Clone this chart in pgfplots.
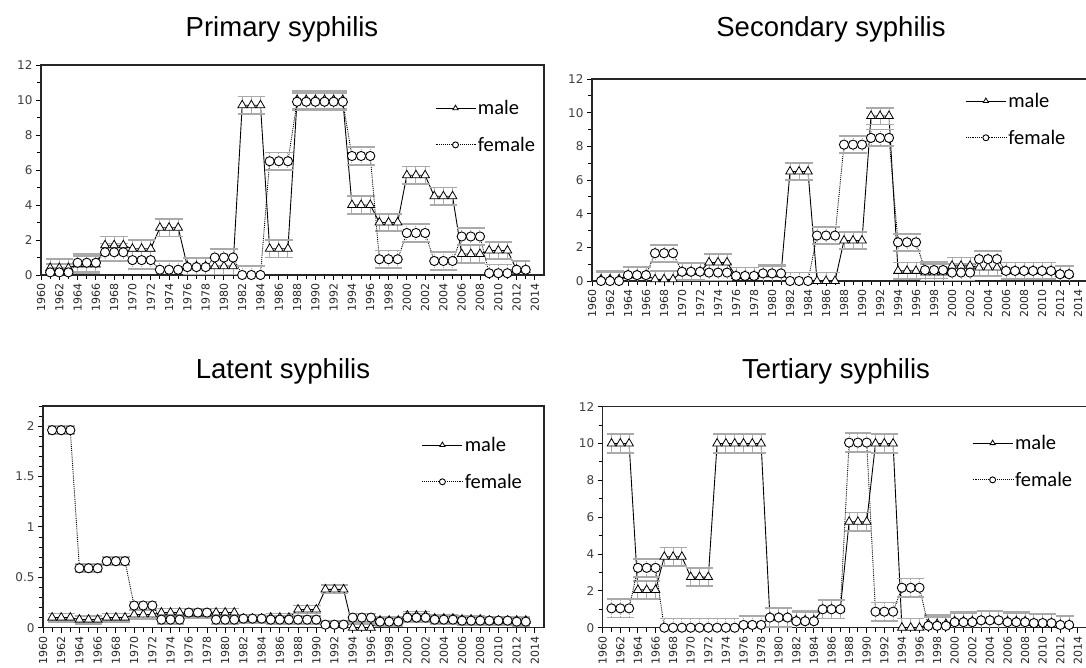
\documentclass[border=0pt]{standalone}
\usepackage{pgfplots}
\usepackage{pgfplotstable}
\pgfplotsset{compat=1.18}
\usepackage{fontspec}
\setmainfont{Liberation Sans}
\newfontfamily\dejavu{DejaVu Sans}
\newfontfamily\carlito{Carlito}

% year, male, female (3-year blocks)
\pgfplotstableread{
year male female
1961 0.4 0.15
1962 0.4 0.15
1963 0.4 0.15
1964 0.6 0.7
1965 0.6 0.7
1966 0.6 0.7
1967 1.7 1.3
1968 1.7 1.3
1969 1.7 1.3
1970 1.5 0.85
1971 1.5 0.85
1972 1.5 0.85
1973 2.7 0.3
1974 2.7 0.3
1975 2.7 0.3
1976 0.5 0.45
1977 0.5 0.45
1978 0.5 0.45
1979 0.5 1.0
1980 0.5 1.0
1981 0.5 1.0
1982 9.7 0.0
1983 9.7 0.0
1984 9.7 0.0
1985 1.5 6.5
1986 1.5 6.5
1987 1.5 6.5
1988 10.0 9.9
1989 10.0 9.9
1990 10.0 9.9
1991 10.0 9.9
1992 10.0 9.9
1993 10.0 9.9
1994 4.0 6.8
1995 4.0 6.8
1996 4.0 6.8
1997 3.0 0.9
1998 3.0 0.9
1999 3.0 0.9
2000 5.7 2.4
2001 5.7 2.4
2002 5.7 2.4
2003 4.5 0.8
2004 4.5 0.8
2005 4.5 0.8
2006 1.2 2.2
2007 1.2 2.2
2008 1.2 2.2
2009 1.4 0.1
2010 1.4 0.1
2011 1.4 0.1
2012 0.3 0.3
2013 0.3 0.3
}\primary

\pgfplotstableread{
year male female
1961 0.1 0.0
1962 0.1 0.0
1963 0.1 0.0
1964 0.35 0.35
1965 0.35 0.35
1966 0.35 0.35
1967 0.1 1.65
1968 0.1 1.65
1969 0.1 1.65
1970 0.55 0.55
1971 0.55 0.55
1972 0.55 0.55
1973 1.1 0.5
1974 1.1 0.5
1975 1.1 0.5
1976 0.3 0.3
1977 0.3 0.3
1978 0.3 0.3
1979 0.4 0.45
1980 0.4 0.45
1981 0.4 0.45
1982 6.5 0.0
1983 6.5 0.0
1984 6.5 0.0
1985 0.0 2.7
1986 0.0 2.7
1987 0.0 2.7
1988 2.4 8.1
1989 2.4 8.1
1990 2.4 8.1
1991 9.8 8.5
1992 9.8 8.5
1993 9.8 8.5
1994 0.6 2.3
1995 0.6 2.3
1996 0.6 2.3
1997 0.5 0.65
1998 0.5 0.65
1999 0.5 0.65
2000 0.9 0.5
2001 0.9 0.5
2002 0.9 0.5
2003 0.8 1.3
2004 0.8 1.3
2005 0.8 1.3
2006 0.6 0.6
2007 0.6 0.6
2008 0.6 0.6
2009 0.6 0.6
2010 0.6 0.6
2011 0.6 0.6
2012 0.4 0.4
2013 0.4 0.4
}\secondary

\pgfplotstableread{
year male female
1961 0.10 1.96
1962 0.10 1.96
1963 0.10 1.96
1964 0.08 0.59
1965 0.08 0.59
1966 0.08 0.59
1967 0.10 0.66
1968 0.10 0.66
1969 0.10 0.66
1970 0.13 0.22
1971 0.13 0.22
1972 0.13 0.22
1973 0.15 0.08
1974 0.15 0.08
1975 0.15 0.08
1976 0.14 0.15
1977 0.14 0.15
1978 0.14 0.15
1979 0.15 0.08
1980 0.15 0.08
1981 0.15 0.08
1982 0.09 0.09
1983 0.09 0.09
1984 0.09 0.09
1985 0.10 0.08
1986 0.10 0.08
1987 0.10 0.08
1988 0.18 0.08
1989 0.18 0.08
1990 0.18 0.08
1991 0.38 0.03
1992 0.38 0.03
1993 0.38 0.03
1994 0.00 0.10
1995 0.00 0.10
1996 0.00 0.10
1997 0.07 0.06
1998 0.07 0.06
1999 0.07 0.06
2000 0.12 0.10
2001 0.12 0.10
2002 0.12 0.10
2003 0.09 0.08
2004 0.09 0.08
2005 0.09 0.08
2006 0.08 0.07
2007 0.08 0.07
2008 0.08 0.07
2009 0.07 0.07
2010 0.07 0.07
2011 0.07 0.07
2012 0.07 0.06
2013 0.07 0.06
}\latent

\pgfplotstableread{
year male female
1961 10.0 1.05
1962 10.0 1.05
1963 10.0 1.05
1964 2.05 3.25
1965 2.05 3.25
1966 2.05 3.25
1967 3.85 0.0
1968 3.85 0.0
1969 3.85 0.0
1970 2.75 0.0
1971 2.75 0.0
1972 2.75 0.0
1973 10.0 0.0
1974 10.0 0.0
1975 10.0 0.0
1976 10.0 0.15
1977 10.0 0.15
1978 10.0 0.15
1979 0.55 0.55
1980 0.55 0.55
1981 0.55 0.55
1982 0.4 0.35
1983 0.4 0.35
1984 0.4 0.35
1985 1.0 1.0
1986 1.0 1.0
1987 1.0 1.0
1988 5.75 10.05
1989 5.75 10.05
1990 5.75 10.05
1991 10.0 0.87
1992 10.0 0.87
1993 10.0 0.87
1994 0.0 2.17
1995 0.0 2.17
1996 0.0 2.17
1997 0.2 0.1
1998 0.2 0.1
1999 0.2 0.1
2000 0.35 0.3
2001 0.35 0.3
2002 0.35 0.3
2003 0.4 0.4
2004 0.4 0.4
2005 0.4 0.4
2006 0.35 0.3
2007 0.35 0.3
2008 0.35 0.3
2009 0.25 0.25
2010 0.25 0.25
2011 0.25 0.25
2012 0.15 0.15
2013 0.15 0.15
}\tertiary

\definecolor{errgray}{RGB}{170,170,170}
\definecolor{lblgray}{RGB}{64,64,64}

\pgfplotsset{
  panel/.style={
    scale only axis, anchor=south west,
    xmin=1960, xmax=2015, ymin=0,
    xtick={1960,1962,...,2014}, minor xtick={1961,1963,...,2013},
    /pgf/number format/.cd, 1000 sep={}, assume math mode=true, /pgfplots/.cd,
    x tick label style={rotate=90, anchor=east, font=\dejavu\fontsize{11}{11}\selectfont, text=black!85},
    y tick label style={font=\dejavu\fontsize{12}{12}\selectfont, text=lblgray},
    tick align=outside, xtick pos=lower, ytick pos=left,
    major tick length=5pt, minor tick length=4pt,
    tick style={black, line width=0.9pt},
    axis line style={black!85, line width=1.3pt},
    legend cell align=left,
    legend style={draw=none, fill=none, inner sep=0pt, anchor=west,
      font=\carlito\fontsize{20.5}{20.5}\selectfont, row sep=17pt},
    legend image code/.code={\draw[mark repeat=2, mark phase=2, ##1, mark size=3pt]
      plot coordinates {(0pt,0pt) (20pt,0pt) (40pt,0pt)};},
  },
  ebar/.style={error bars/.cd, y dir=both, y fixed=#1,
    error bar style={errgray, line width=1pt},
    error mark options={rotate=90, errgray, mark size=4.6pt, line width=1.8pt}},
  maleplot/.style={black, line width=0.9pt, mark=triangle*, mark size=5pt,
    mark options={solid, fill=white, line width=0.8pt}},
  femaleplot/.style={black, densely dotted, line width=0.9pt, mark=*, mark size=4.6pt,
    mark options={solid, fill=white, line width=0.9pt}},
}

\begin{document}
\begin{tikzpicture}
\useasboundingbox[fill=white] (0pt,0pt) rectangle (1086pt,668pt);

\node[anchor=base, font=\fontsize{27.5}{27.5}\selectfont] at (282pt,631pt) {Primary syphilis};
\node[anchor=base, font=\fontsize{27.5}{27.5}\selectfont] at (831pt,631pt) {Secondary syphilis};
\node[anchor=base, font=\fontsize{27.5}{27.5}\selectfont] at (283pt,289pt) {Latent syphilis};
\node[anchor=base, font=\fontsize{27.5}{27.5}\selectfont] at (836pt,289pt) {Tertiary syphilis};

% Primary
\begin{axis}[panel, at={(41pt,393pt)}, width=503pt, height=210pt, ymax=12,
  ytick={0,2,...,12}, minor ytick={1,3,...,11},
  legend style={at={(0.783,0.707)}}]
\addplot[maleplot, ebar=0.5] table[x=year, y=male] {\primary};
\addplot[femaleplot, ebar=0.5] table[x=year, y=female] {\primary};
\legend{male, female}
\end{axis}

% Secondary
\begin{axis}[panel, at={(592pt,387pt)}, width=495pt, height=202pt, ymax=12,
  ytick={0,2,...,12}, minor ytick={1,3,...,11},
  legend style={at={(0.754,0.80)}}]
\addplot[maleplot, ebar=0.5] table[x=year, y=male] {\secondary};
\addplot[femaleplot, ebar=0.5] table[x=year, y=female] {\secondary};
\legend{male, female}
\end{axis}

% Latent
\begin{axis}[panel, at={(43pt,40.3pt)}, width=501pt, height=221.7pt, ymax=2.2,
  ytick={0,0.5,...,2}, minor ytick={0.1,0.2,...,2.2},
  legend style={at={(0.756,0.741)}}]
\addplot[maleplot, ebar=0.04] table[x=year, y=male] {\latent};
\addplot[femaleplot, ebar=0.04] table[x=year, y=female] {\latent};
\legend{male, female}
\end{axis}

% Tertiary
\begin{axis}[panel, at={(602.7pt,40.3pt)}, width=484pt, height=221pt, ymax=12,
  ytick={0,2,...,12}, minor ytick={1,3,...,11},
  legend style={at={(0.763,0.752)}}]
\addplot[maleplot, ebar=0.5] table[x=year, y=male] {\tertiary};
\addplot[femaleplot, ebar=0.5] table[x=year, y=female] {\tertiary};
\legend{male, female}
\end{axis}
\end{tikzpicture}
\end{document}
